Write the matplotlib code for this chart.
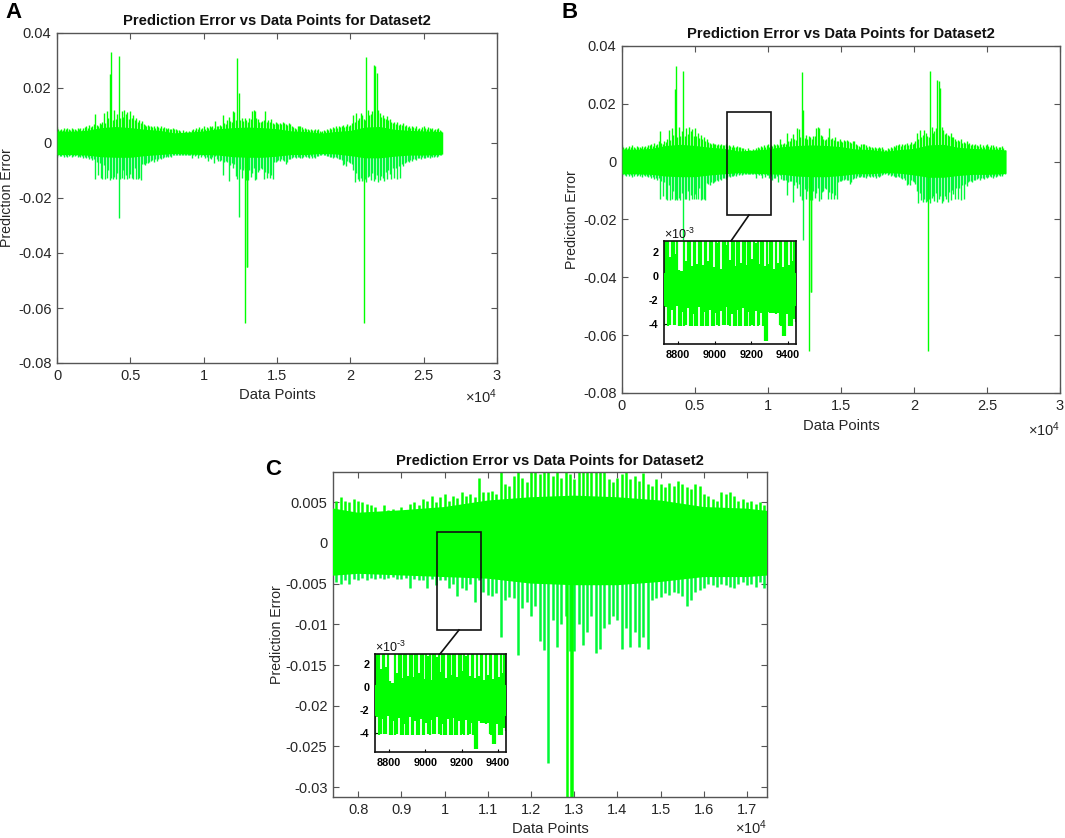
import numpy as np
import matplotlib
matplotlib.use('Agg')
import matplotlib.pyplot as plt
from matplotlib.patches import Rectangle
from matplotlib.lines import Line2D

plt.rcParams['font.family'] = ['Liberation Sans', 'DejaVu Sans']
plt.rcParams['mathtext.default'] = 'regular'

W, H = 1065, 838
GREEN = '#00ff00'
GREEN2 = '#00f838'
GREY = '#555555'

# upper and lower edge of the error, one value per 100 data points (units 1e-4)
err_hi = [
    58, 50, 46, 52, 48, 54, 50, 56, 52, 48,
    54, 50, 52, 48, 55, 50, 53, 49, 56, 58,
    62, 55, 66, 58, 62, 70, 105, 64, 60, 72,
    68, 78, 110, 74, 118, 92, 250, 332, 85, 120,
    88, 105, 315, 90, 118, 95, 120, 105, 112, 88,
    118, 90, 100, 82, 92, 78, 85, 72, 80, 68,
    66, 62, 64, 60, 62, 58, 60, 56, 62, 58,
    56, 60, 54, 58, 55, 52, 56, 52, 50, 54,
    52, 50, 48, 46, 44, 36, 46, 40, 42, 38,
    44, 40, 48, 50, 46, 54, 52, 58, 50, 56,
    60, 52, 58, 55, 62, 58, 60, 56, 80, 62,
    62, 64, 60, 100, 72, 70, 82, 95, 80, 75,
    118, 112, 85, 310, 180, 82, 92, 80, 90, 85,
    78, 90, 88, 116, 120, 115, 92, 88, 78, 75,
    80, 84, 118, 78, 82, 76, 86, 72, 70, 78,
    72, 68, 74, 70, 76, 72, 68, 66, 72, 70,
    60, 58, 54, 52, 62, 60, 62, 58, 52, 54,
    50, 52, 48, 50, 46, 48, 52, 46, 50, 44,
    40, 42, 46, 44, 52, 48, 54, 50, 58, 56,
    60, 54, 62, 58, 60, 64, 58, 60, 68, 62,
    66, 72, 100, 78, 108, 84, 92, 110, 100, 88,
    85, 312, 120, 100, 105, 118, 282, 280, 255, 120,
    110, 95, 100, 92, 88, 98, 84, 86, 78, 72,
    75, 70, 78, 65, 68, 66, 72, 60, 64, 58,
    60, 56, 62, 58, 54, 60, 52, 56, 50, 58,
    62, 54, 52, 58, 56, 50, 54, 48, 52, 50,
    54, 46, 42,
]
err_lo = [
    -50, -44, -46, -48, -44, -50, -46, -52, -48, -44,
    -50, -46, -48, -44, -52, -46, -50, -48, -54, -50,
    -56, -52, -60, -56, -62, -58, -130, -68, -118, -72,
    -128, -132, -80, -132, -128, -100, -134, -128, -132, -125,
    -132, -110, -272, -130, -128, -100, -132, -115, -130, -128,
    -112, -128, -130, -90, -132, -130, -128, -134, -75, -78,
    -80, -72, -74, -70, -66, -62, -68, -60, -64, -58,
    -56, -60, -54, -50, -52, -48, -50, -46, -50, -44,
    -45, -43, -45, -43, -44, -43, -44, -43, -42, -44,
    -44, -43, -55, -44, -46, -45, -55, -44, -52, -45,
    -46, -55, -50, -65, -55, -58, -50, -72, -46, -60,
    -64, -65, -62, -115, -70, -66, -68, -138, -80, -72,
    -90, -78, -120, -132, -270, -95, -128, -100, -90, -133,
    -133, -100, -125, -110, -90, -135, -130, -105, -100, -90,
    -95, -130, -105, -128, -110, -128, -115, -130, -70, -68,
    -66, -62, -64, -60, -62, -65, -78, -70, -60, -58,
    -55, -50, -52, -54, -50, -52, -54, -55, -50, -48,
    -52, -50, -54, -48, -55, -50, -54, -48, -46, -44,
    -42, -40, -45, -44, -48, -46, -50, -52, -54, -50,
    -52, -56, -60, -58, -62, -80, -78, -82, -64, -68,
    -72, -78, -100, -142, -110, -132, -138, -128, -140, -135,
    -130, -142, -125, -120, -135, -110, -140, -130, -118, -142,
    -135, -120, -128, -140, -105, -132, -98, -112, -130, -92,
    -128, -90, -132, -82, -128, -78, -84, -72, -68, -66,
    -70, -62, -64, -60, -58, -62, -56, -55, -60, -52,
    -56, -54, -50, -52, -55, -48, -52, -50, -46, -50,
    -48, -44, -42,
]
# the deepest spikes fall between the 100 point steps
deep_x = [12830, 12930, 12950, 20950]
deep_lo = [-655, -450, -450, -655]

# solid band of the trace
core_x = [0, 1000, 2000, 3000, 4000, 5000, 6000, 7000, 8000, 9000, 10000, 11000, 12000, 13000,
          14000, 15000, 16000, 17000, 18000, 19000, 20000, 21000, 22000, 23000, 24000, 25000, 26000, 26300]
core_hi = [44, 43, 46, 56, 60, 56, 50, 46, 37, 40, 44, 52, 56, 58,
           56, 52, 44, 42, 36, 42, 46, 58, 60, 50, 46, 44, 42, 40]
core_lo = [-42, -42, -44, -50, -52, -52, -46, -42, -38, -40, -42, -44, -50, -52,
           -52, -48, -42, -42, -38, -40, -46, -54, -54, -48, -44, -44, -42, -40]

# zoomed window around 9100, one value per 10 data points (units 1e-3)
zoom_start = 8725
zoom_hi = [
    3, 3, 3, 1.6, 3, 3, 1.8, 3, 0.5, 0.4, 0.4, 3, 1.2, 3, 3, 0.8, 3, 3, 1.0, 3,
    3, 0.9, 3, 3, 1.2, 3, 3, 0.7, 3, 2.7, 3, 0.6, 3, 3, 2.6, 3, 1.3, 3, 3, 0.8,
    3, 3, 1.1, 3, 3, 0.9, 3, 3, 1.4, 3, 2.7, 3, 1.0, 3, 3, 0.8, 3, 1.0, 3, 3,
    0.6, 3, 1.1, 3, 3, 0.7, 3, 3, 0.9, 3, 1.2, 3, 3,
]
zoom_lo = [
    -4.2, -2.6, -4.2, -4.1, -2.8, -4.1, -4.1, -2.5, -4.2, -4.2, -3.0, -4.2, -4.1, -2.7, -4.2, -4.2, -3.2, -4.2, -4.2, -2.6,
    -4.2, -4.2, -3.0, -4.2, -4.2, -2.8, -4.2, -4.2, -3.1, -4.1, -4.2, -2.9, -4.1, -4.1, -2.6, -4.1, -4.2, -3.2, -4.2, -4.2,
    -2.8, -4.2, -4.2, -2.7, -4.2, -4.2, -3.0, -4.2, -4.1, -4.2, -2.9, -4.2, -4.1, -3.1, -4.2, -5.4, -5.4, -3.0, -3.1, -3.1,
    -3.1, -3.2, -3.1, -4.1, -4.2, -5.0, -5.0, -3.2, -4.2, -4.2, -4.2, -3.6, -3.8,
]

x_ticks_full = [0, 5000, 10000, 15000, 20000, 25000, 30000]
x_labels_full = ['0', '0.5', '1', '1.5', '2', '2.5', '3']
y_ticks_full = [0.04, 0.02, 0, -0.02, -0.04, -0.06, -0.08]
y_labels_full = ['0.04', '0.02', '0', '-0.02', '-0.04', '-0.06', '-0.08']

x_ticks_c = [8000, 9000, 10000, 11000, 12000, 13000, 14000, 15000, 16000, 17000]
x_labels_c = ['0.8', '0.9', '1', '1.1', '1.2', '1.3', '1.4', '1.5', '1.6', '1.7']
y_ticks_c = [0.005, 0, -0.005, -0.01, -0.015, -0.02, -0.025, -0.03]
y_labels_c = ['0.005', '0', '-0.005', '-0.01', '-0.015', '-0.02', '-0.025', '-0.03']

zoom_x_ticks = [8800, 9000, 9200, 9400]
zoom_y_ticks = [-4, -2, 0, 2]
zoom_y_labels = ['-4', '-2', '0', '2']

title = 'Prediction Error vs Data Points for Dataset2'


def px_axes(fig, left, top, right, bottom):
    return fig.add_axes([left / W, 1 - bottom / H, (right - left) / W, (bottom - top) / H])


def fig_text(fig, x, y, s, **kw):
    fig.text(x / W, 1 - y / H, s, ha=kw.pop('ha', 'center'), va=kw.pop('va', 'center'), **kw)


def draw_trace(ax, lw):
    x = np.arange(len(err_hi)) * 100
    hi = np.array(err_hi) * 1e-4
    lo = np.array(err_lo) * 1e-4
    ax.fill_between(core_x, np.array(core_lo) * 1e-4, np.array(core_hi) * 1e-4,
                    color=GREEN, lw=0, zorder=3)
    ax.vlines(x, 0, lo, color=GREEN2, lw=lw, zorder=2)
    ax.vlines(x, 0, hi, color=GREEN, lw=lw, zorder=2)
    ax.vlines(deep_x, 0, np.array(deep_lo) * 1e-4, color=GREEN, lw=lw, zorder=2)


def main_panel(fig, box, letter, letter_pos, xlim, ylim, xt, xl, yt, yl, lw, ylab_x, xlab_y, exp_pos, title_y):
    ax = px_axes(fig, *box)
    draw_trace(ax, lw)
    ax.set_xlim(*xlim)
    ax.set_ylim(*ylim)
    ax.set_xticks(xt, xl)
    ax.set_yticks(yt, yl)
    ax.tick_params(direction='in', length=4, width=0.8, color=GREY, top=True, right=True,
                   labelsize=10.5, labelcolor='#262626', pad=4)
    for s in ax.spines.values():
        s.set_color(GREY)
        s.set_linewidth(1.0)
    mid_x = (box[0] + box[2]) / 2
    mid_y = (box[1] + box[3]) / 2
    fig_text(fig, mid_x, title_y, title, fontsize=10.6, fontweight='bold', color='#111111')
    fig_text(fig, mid_x, xlab_y, 'Data Points', fontsize=10.6, color='#262626')
    fig_text(fig, ylab_x, mid_y, 'Prediction Error', fontsize=10.2, rotation=90, color='#262626')
    fig_text(fig, exp_pos[0], exp_pos[1], r'$\times10^{4}$', fontsize=10.5, color='#262626')
    fig_text(fig, letter_pos[0], letter_pos[1], letter, fontsize=16, fontweight='bold', color='black')
    return ax


def zoom_panel(fig, box, exp_pos):
    ax = px_axes(fig, *box)
    x = zoom_start + np.arange(len(zoom_hi)) * 10
    ax.fill_between([zoom_start, x[-1]], -2.5, 0.2, color=GREEN, lw=0, zorder=3)
    ax.vlines(x, zoom_lo, zoom_hi, color=GREEN, lw=1.6, zorder=2)
    ax.set_xlim(8723, 9445)
    ax.set_ylim(-5.67, 2.9)
    ax.set_xticks(zoom_x_ticks, [str(t) for t in zoom_x_ticks])
    ax.set_yticks(zoom_y_ticks, zoom_y_labels)
    ax.tick_params(direction='in', length=2.5, width=0.8, color='black', labelsize=7.8, pad=4)
    for lab in ax.get_xticklabels() + ax.get_yticklabels():
        lab.set_fontweight('bold')
    for s in ax.spines.values():
        s.set_color('#111111')
        s.set_linewidth(1.2)
    ax.set_zorder(5)
    fig_text(fig, exp_pos[0], exp_pos[1], r'$\times10^{\text{-}3}$', fontsize=9, color='#111111')


def zoom_marker(fig, rect, line):
    # black box on the main axes and the line that leads to the inset
    x0, y0, x1, y1 = rect
    fig.add_artist(Rectangle((x0 / W, 1 - y1 / H), (x1 - x0) / W, (y1 - y0) / H, fill=False,
                             ec='#111111', lw=1.2, zorder=10))
    fig.add_artist(Line2D([line[0] / W, line[2] / W], [1 - line[1] / H, 1 - line[3] / H],
                          color='#111111', lw=1.2, zorder=10))


fig = plt.figure(figsize=(W / 100, H / 100), dpi=100)

main_panel(fig, (57, 33, 497, 363), 'A', (13, 12), (0, 30000), (-0.08, 0.04),
           x_ticks_full, x_labels_full, y_ticks_full, y_labels_full, 1.0, 7, 395, (481, 397), 21)

main_panel(fig, (622, 46, 1060, 393), 'B', (570, 12), (0, 30000), (-0.08, 0.04),
           x_ticks_full, x_labels_full, y_ticks_full, y_labels_full, 1.0, 572, 426, (1044, 430), 34)
zoom_panel(fig, (664, 241, 796, 344), (679, 234))
zoom_marker(fig, (727, 112, 771, 215), (749, 215, 731, 241))

main_panel(fig, (333, 472, 767, 797), 'C', (273, 469), (7420, 17460), (-0.0312, 0.0087),
           x_ticks_c, x_labels_c, y_ticks_c, y_labels_c, 1.8, 277, 829, (751, 828), 461)
zoom_panel(fig, (375, 654, 506, 752), (390, 647))
zoom_marker(fig, (437, 532, 481, 630), (459, 630, 440, 654))

fig.savefig('out.png', dpi=100)
